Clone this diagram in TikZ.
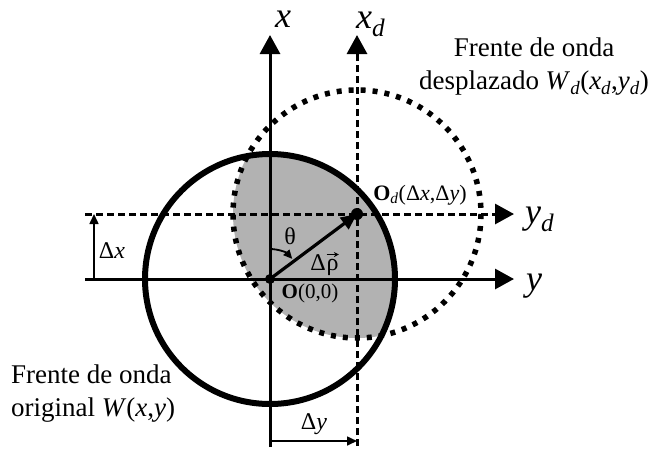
\documentclass[tikz,border=0pt]{standalone}
\usepackage{fontspec}
\setmainfont{Liberation Serif}
\usetikzlibrary{arrows.meta}
\tikzset{
  axis/.style={line width=3pt,-{Triangle[length=19pt,width=20pt]}},
  daxis/.style={axis,dash pattern=on 7pt off 4pt},
  wave/.style={line width=6pt},
  dwave/.style={line width=5.5pt,dash pattern=on 5pt off 7pt},
  dim/.style={line width=1.6pt,-{Triangle[length=10pt,width=9pt]}},
  lbl/.style={inner sep=0pt,font=\fontsize{24}{28}\selectfont},
  axlbl/.style={inner sep=0pt,font=\fontsize{36}{42}\selectfont\itshape},
  desc/.style={inner sep=0pt,font=\fontsize{27}{33}\selectfont},
}
\begin{document}
\begin{tikzpicture}[x=1pt,y=-1pt]
\useasboundingbox (0,0) rectangle (658,451);
\coordinate (O) at (270,279);
\coordinate (Od) at (357,214);
\coordinate (xb) at (270,447);
\coordinate (xt) at (270,35);
\coordinate (xdb) at (357,446);
\coordinate (xdt) at (357,35);
\coordinate (yl) at (85,279);
\coordinate (yr) at (514,279);
\coordinate (ydl) at (85,214);
\coordinate (ydr) at (514,214);
\coordinate (dxb) at (94,279);
\coordinate (dxt) at (94,214);
\coordinate (dyl) at (270,441);
\coordinate (dyr) at (357,441);
% overlap region
\begin{scope}
\clip (O) circle[radius=125];
\fill[black!30] (Od) circle[radius=124];
\end{scope}
% axes
\draw[axis] (xb) -- (xt);
\draw[daxis] (xdb) -- (xdt);
\draw[axis] (yl) -- (yr);
\draw[daxis] (ydl) -- (ydr);
% wavefronts
\draw[wave] (O) circle[radius=125];
\draw[dwave] (Od) circle[radius=124];
% displacement vector
\draw[line width=3.2pt,-{Triangle[length=16pt,width=14pt]}] (O) -- (Od);
\fill (O) circle[radius=5];
\fill (Od) circle[radius=6];
% theta arc
\draw[line width=1.8pt,-{Triangle[length=9pt,width=8pt]}] ([shift={(0,-30)}]O) arc[start angle=-90,end angle=-42,radius=30];
% dimension arrows
\draw[dim] (dxb) -- (dxt);
\draw[dim] (dyl) -- (dyr);
% labels
\node[axlbl,anchor=base] (lx) at (283,27) {x};
\node[axlbl,anchor=base west] (lxd) at (356,28) {x\textsubscript{d}};
\node[axlbl,anchor=base west] (ly) at (526,290) {y};
\node[axlbl,anchor=base west] (lyd) at (525,223) {y\textsubscript{d}};
\node[lbl] (ldx) at (112,251) {Δ\textit{x}};
\node[lbl] (ldy) at (314,424) {Δ\textit{y}};
\node[lbl] (lth) at (290,236) {θ};
\node[lbl,anchor=base east] (lrhoD) at (326,270) {Δ};
\node[lbl,anchor=base west] (lrho) at (326.5,270) {ρ};
\draw[line width=1.1pt,-{Stealth[length=5pt,width=5pt]}] ([yshift=4]lrho.north west) -- ([yshift=4]lrho.north east);
\node[lbl,font=\fontsize{21}{24}\selectfont] (lO) at (310,293) {\textbf{O}(0,0)};
\node[lbl,font=\fontsize{22}{24}\selectfont] (lOd) at (420,195) {\textbf{O}\textsubscript{\textit{d}}(Δ\textit{x},Δ\textit{y})};
\node[desc,align=center] (dr) at (534,67) {Frente de onda\\desplazado \textit{W}\textsubscript{\textit{d}}(\textit{x}\textsubscript{\textit{d}},\textit{y}\textsubscript{\textit{d}})};
\node[desc,align=left,anchor=west] (dl) at (11,394) {Frente de onda\\original \textit{W}(\textit{x},\textit{y})};
\end{tikzpicture}
\end{document}
